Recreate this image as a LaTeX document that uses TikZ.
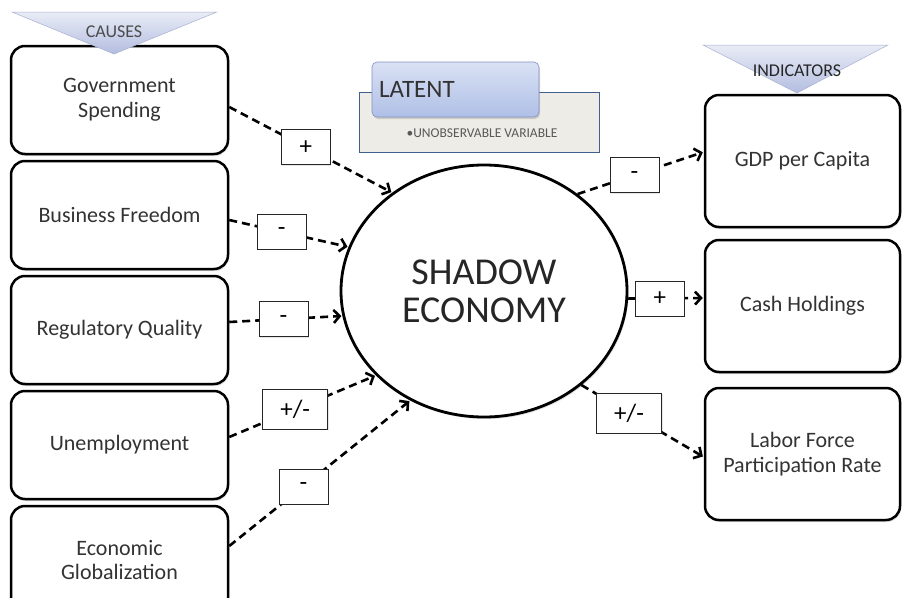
\documentclass[tikz,border=0pt]{standalone}
\usepackage{fontspec}
\setmainfont{Carlito}
\usetikzlibrary{positioning, shapes.geometric, arrows.meta, shadows}
\definecolor{txtgray}{HTML}{333333}
\definecolor{triTop}{HTML}{E9ECF6}
\definecolor{triBot}{HTML}{B3BDE0}
\definecolor{triEdge}{HTML}{A9B1CF}
\definecolor{latTop}{HTML}{D9E1F4}
\definecolor{latBot}{HTML}{AFBFE6}
\definecolor{latEdge}{HTML}{8392C0}
\definecolor{paneFill}{HTML}{EEECE6}
\definecolor{paneEdge}{HTML}{3E5F90}

\begin{document}
\begin{tikzpicture}[x=1pt, y=-1pt, on grid, >={Straight Barb[length=6pt,width=13pt]},
    box/.style={draw, fill=white, line width=2.5pt, rounded corners=14pt, align=center,
      text=txtgray, font=\fontsize{22}{24.5}\selectfont,
      drop shadow={shadow xshift=1pt, shadow yshift=-2pt, opacity=.25}},
    cause/.style={box, minimum width=217pt, minimum height=108pt},
    indic/.style={box, minimum width=195pt, minimum height=132pt},
    sign/.style={solid, draw=black!85, fill=white, line width=.6pt, minimum width=49pt,
      minimum height=35pt, font=\fontsize{25}{25}\selectfont,
      drop shadow={shadow xshift=1pt, shadow yshift=-1pt, opacity=.2}},
    signwide/.style={sign, minimum width=65pt, minimum height=40pt},
    link/.style={line width=2.6pt, dash pattern=on 8pt off 5pt, ->, shorten >=1pt}]

  \useasboundingbox (0,0) rectangle (902,597);

  % causes
  \node[cause] (gov) at (119.5,100) {Government\\Spending};
  \node[cause] (bus) [below=115pt of gov] {Business Freedom};
  \node[cause] (reg) [below=115pt of bus] {Regulatory Quality};
  \node[cause] (unemp) [below=115pt of reg] {Unemployment};
  \node[cause] (glob) [below=115pt of unemp] {Economic\\Globalization};

  % indicators
  \node[indic] (gdp) at (802.5,161) {GDP per Capita};
  \node[indic] (cash) [below=145pt of gdp] {Cash Holdings};
  \node[indic] (labor) [below=148pt of cash] {Labor Force\\Participation Rate};

  % latent variable
  \node[ellipse, draw, fill=white, line width=2.8pt, minimum width=286pt, minimum height=252pt,
    align=center, text=black!85, font=\fontsize{38}{38}\selectfont,
    drop shadow={shadow xshift=1.5pt, shadow yshift=-2pt, opacity=.25}] (eco) at (484,291)
    {SHADOW\\ECONOMY};

  % legend
  \node[draw=paneEdge, fill=paneFill, line width=.8pt, minimum width=240pt, minimum height=60pt]
    (pane) at (479,122) {};
  \node[top color=latTop, bottom color=latBot, draw=latEdge, line width=.6pt, rounded corners=5pt,
    text width=153pt, inner sep=7pt, minimum height=55pt, align=left, text=black!80,
    font=\fontsize{25}{25}\selectfont,
    drop shadow={shadow xshift=1pt, shadow yshift=-2pt, opacity=.3}] (latent) at (455.5,89.5) {LATENT};
  \node[text=black!65, font=\fontsize{13.5}{14}\selectfont] (unobs) at (482,133)
    {\textbullet UNOBSERVABLE VARIABLE};

  % links
  \draw[link] ([yshift=-7pt]gov.east) -- node[sign, pos=.47] (s1) {+} (eco.133);
  \draw[link] ([yshift=-5pt]bus.east) -- node[sign, pos=.44] (s2) {-} (eco.162);
  \draw[link] ([yshift=8pt]reg.east) -- node[sign, pos=.48] (s3) {-} (eco.190);
  \draw[link] ([yshift=8pt]unemp.east) -- node[signwide, pos=.45] (s4) {+/-} (eco.218);
  \draw[link] ([yshift=14pt]glob.east) -- node[sign, pos=.41] (s5) {-} (eco.236);
  \draw[link] (eco.46) -- node[sign, pos=.45] (s6) {-} ([yshift=9pt]gdp.west);
  \draw[link] (eco.357) -- node[sign, pos=.42] (s7) {+} ([yshift=8pt]cash.west);
  \draw[link] (eco.316) -- node[signwide, pos=.39] (s8) {+/-} ([yshift=-3pt]labor.west);

  % headers
  \shade[top color=triTop, bottom color=triBot, draw=triEdge, line width=.5pt]
    (12,12) -- (217,12) -- (114,54) -- cycle;
  \node[text=black!70, font=\fontsize{18}{18}\selectfont] (causes) at (114,32) {CAUSES};
  \shade[top color=triTop, bottom color=triBot, draw=triEdge, line width=.5pt]
    (703,45) -- (888,45) -- (797,93) -- cycle;
  \node[text=black!85, font=\fontsize{18}{18}\selectfont] (indicators) at (797,71) {INDICATORS};
\end{tikzpicture}
\end{document}
